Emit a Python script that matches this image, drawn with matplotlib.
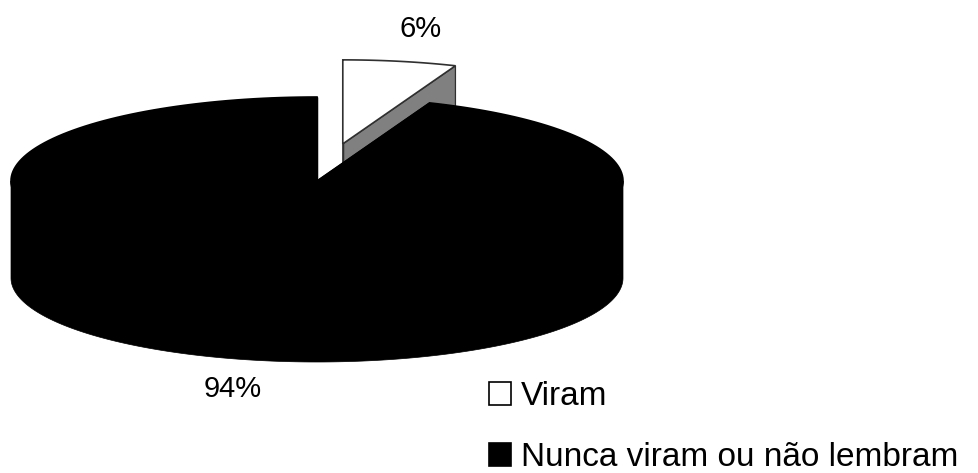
import matplotlib.pyplot as plt
import numpy as np
from matplotlib.patches import Patch, Polygon

plt.rcParams["font.family"] = ["Liberation Sans", "DejaVu Sans"]

# data
categories = ["Viram", "Nunca viram ou não lembram"]
shares = [6, 94]
labels = ["6%", "94%"]
top_colors = ["white", "black"]
side_colors = ["#808080", "black"]
explode = [0.45, 0.0]

# pie geometry in pixel space (y grows downward)
CX, CY = 317.0, 181.0
A, B = 306.0, 84.0
DEPTH = 97.0
START = 90.0  # first slice starts at 12 o'clock, runs clockwise
LABEL_XY = [(421, 37), (233, 397)]  # text baselines


def rim(theta, ox, oy, z=0.0):
    t = np.radians(theta)
    return np.column_stack([CX + ox + A * np.cos(t), CY + oy - B * np.sin(t) + z])


def draw_slice(ax, t_lo, t_hi, ox, oy, top, side):
    """Draw one extruded wedge spanning t_lo..t_hi (degrees, counter-clockwise)."""
    c_top = np.array([[CX + ox, CY + oy]])
    c_bot = c_top + [0, DEPTH]
    edge = "#303030" if top != "black" else "black"
    # radial cut faces
    for t in (t_lo, t_hi):
        p = rim([t], ox, oy)
        quad = np.vstack([c_top, p, p + [0, DEPTH], c_bot])
        ax.add_patch(Polygon(quad, closed=True, facecolor=side, edgecolor=edge, lw=0.9))
    # front wall: part of the arc facing the viewer (180..360 deg)
    for k in (-1, 0, 1):
        lo = max(t_lo, 180 + 360 * k)
        hi = min(t_hi, 360 + 360 * k)
        if hi > lo:
            th = np.linspace(lo, hi, 200)
            wall = np.vstack([rim(th, ox, oy), rim(th[::-1], ox, oy, DEPTH)])
            ax.add_patch(Polygon(wall, closed=True, facecolor=side, edgecolor=side, lw=0.5))
    # top face
    th = np.linspace(t_lo, t_hi, 200)
    face = np.vstack([c_top, rim(th, ox, oy)])
    ax.add_patch(Polygon(face, closed=True, facecolor=top, edgecolor=edge, lw=1.2))


fig = plt.figure(figsize=(9.79, 4.73), dpi=100)
ax = fig.add_axes([0, 0, 1, 1])
ax.set_xlim(0, 979)
ax.set_ylim(473, 0)
ax.axis("off")

fracs = np.array(shares, dtype=float) / sum(shares)
spans = fracs * 360.0
ends = START - np.concatenate([[0], np.cumsum(spans)[:-1]])
starts = ends - spans

# back slice first, so the big slice covers it
order = np.argsort([np.sin(np.radians((s + e) / 2)) for s, e in zip(starts, ends)])[::-1]
for i in order:
    mid = np.radians((starts[i] + ends[i]) / 2)
    ox = A * explode[i] * np.cos(mid)
    oy = -B * explode[i] * np.sin(mid)
    draw_slice(ax, starts[i], ends[i], ox, oy, top_colors[i], side_colors[i])
    ax.text(*LABEL_XY[i], labels[i], ha="center", va="baseline", fontsize=21, color="black")

handles = [Patch(facecolor=c, edgecolor="black", lw=1.2) for c in top_colors]
ax.legend(
    handles,
    categories,
    loc="upper left",
    bbox_to_anchor=(489 / 979, 1 - 381 / 473),
    frameon=False,
    fontsize=24,
    handlelength=0.67,
    handleheight=0.67,
    handletextpad=0.3,
    labelspacing=0.9,
    borderpad=0,
    borderaxespad=0,
)

fig.savefig("out.png", dpi=100, facecolor="white")
